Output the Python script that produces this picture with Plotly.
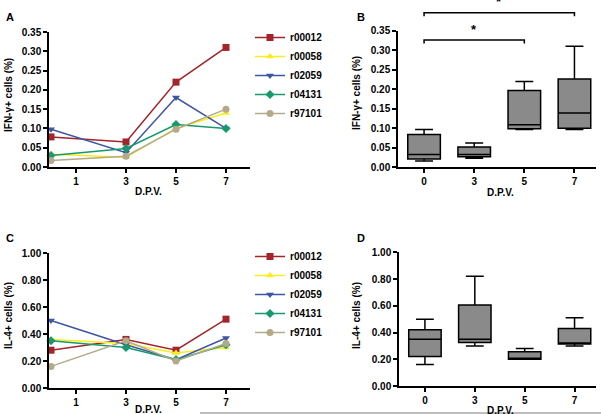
import plotly.graph_objects as go

W, H = 601, 414
FONT = "Liberation Sans, Arial, sans-serif"

# ---------------- data ----------------
days = [0, 3, 5, 7]
day_ticks = [1, 3, 5, 7]
box_cats = ["0", "3", "5", "7"]
rabbits = ["r00012", "r00058", "r02059", "r04131", "r97101"]

ifn = {
    "r00012": [0.078, 0.065, 0.220, 0.310],
    "r00058": [0.033, 0.025, 0.100, 0.140],
    "r02059": [0.098, 0.037, 0.180, 0.100],
    "r04131": [0.030, 0.048, 0.110, 0.100],
    "r97101": [0.017, 0.028, 0.098, 0.150],
}
il4 = {
    "r00012": [0.28, 0.36, 0.28, 0.51],
    "r00058": [0.36, 0.33, 0.26, 0.30],
    "r02059": [0.50, 0.32, 0.21, 0.37],
    "r04131": [0.35, 0.30, 0.21, 0.32],
    "r97101": [0.16, 0.35, 0.20, 0.33],
}

# box statistics
ifn_low = [0.016, 0.023, 0.097, 0.097]
ifn_q1 = [0.021, 0.027, 0.099, 0.100]
ifn_med = [0.033, 0.033, 0.109, 0.139]
ifn_q3 = [0.084, 0.052, 0.197, 0.226]
ifn_up = [0.097, 0.062, 0.220, 0.310]

il4_low = [0.16, 0.30, 0.200, 0.300]
il4_q1 = [0.22, 0.325, 0.200, 0.314]
il4_med = [0.35, 0.35, 0.205, 0.322]
il4_q3 = [0.42, 0.605, 0.257, 0.430]
il4_up = [0.50, 0.82, 0.280, 0.510]

# significance comparisons (category index pairs) in panel B
sig_pairs = [(0, 2), (0, 3)]
sig_levels = [0.326, 0.396]
sig_labels = ["*", "*"]

styles = {
    "r00012": dict(color="#A3242A", symbol="square"),
    "r00058": dict(color="#F7EE1A", symbol="triangle-up"),
    "r02059": dict(color="#3E55A4", symbol="triangle-down"),
    "r04131": dict(color="#16996E", symbol="diamond"),
    "r97101": dict(color="#B3AA8A", symbol="circle"),
}

fig = go.Figure()

# line panels
for name in rabbits:
    st = styles[name]
    fig.add_trace(go.Scatter(
        x=days, y=ifn[name], name=name, mode="lines+markers",
        line=dict(color=st["color"], width=1.5),
        marker=dict(symbol=st["symbol"], size=7, color=st["color"]),
        xaxis="x", yaxis="y", legend="legend", cliponaxis=False))
for name in rabbits:
    st = styles[name]
    fig.add_trace(go.Scatter(
        x=days, y=il4[name], name=name, mode="lines+markers",
        line=dict(color=st["color"], width=1.5),
        marker=dict(symbol=st["symbol"], size=7, color=st["color"]),
        xaxis="x3", yaxis="y3", legend="legend2", cliponaxis=False))

# box panels
box_style = dict(fillcolor="#8A8A8A", line=dict(color="black", width=1.5),
                 width=0.65, whiskerwidth=0.55, showlegend=False, boxpoints=False)
fig.add_trace(go.Box(x=box_cats, q1=ifn_q1, median=ifn_med, q3=ifn_q3,
                     lowerfence=ifn_low, upperfence=ifn_up,
                     xaxis="x2", yaxis="y2", **box_style))
fig.add_trace(go.Box(x=box_cats, q1=il4_q1, median=il4_med, q3=il4_q3,
                     lowerfence=il4_low, upperfence=il4_up,
                     xaxis="x4", yaxis="y4", **box_style))

tickfont = dict(family=FONT, size=10, color="black", weight="bold")

def px_x(p):
    return p / W

def px_y(p):
    return 1 - p / H

line_x_range = [-0.08, 7.96]
box_x_range = [-0.52, 3.43]

common = dict(showline=True, linecolor="black", linewidth=1.5, ticks="outside",
              ticklen=4, tickwidth=1.5, tickcolor="black", showgrid=False,
              zeroline=False, tickfont=tickfont, mirror=False, automargin=False)

y2_dom = [px_y(167.3), px_y(30.7)]

fig.update_layout(
    width=W, height=H, margin=dict(l=0, r=0, t=0, b=0, autoexpand=False),
    paper_bgcolor="white", plot_bgcolor="white",
    font=dict(family=FONT, size=10, color="black"),
    xaxis=dict(domain=[px_x(49), px_x(250)], range=line_x_range, tickvals=day_ticks,
               anchor="y", **common),
    yaxis=dict(domain=[px_y(167), px_y(32)], range=[0, 0.35], dtick=0.05,
               tickformat=".2f", anchor="x", **common),
    xaxis2=dict(domain=[px_x(398), px_x(596)], range=box_x_range, type="category",
                anchor="y2", **common),
    yaxis2=dict(domain=y2_dom, range=[0, 0.35], dtick=0.05,
                tickformat=".2f", anchor="x2", **common),
    xaxis3=dict(domain=[px_x(49), px_x(250)], range=line_x_range, tickvals=day_ticks,
                anchor="y3", **common),
    yaxis3=dict(domain=[px_y(388), px_y(253)], range=[0, 1.0], dtick=0.2,
                tickformat=".2f", anchor="x3", **common),
    xaxis4=dict(domain=[px_x(399), px_x(596)], range=box_x_range, type="category",
                anchor="y4", **common),
    yaxis4=dict(domain=[px_y(386), px_y(252.3)], range=[0, 1.0], dtick=0.2,
                tickformat=".2f", anchor="x4", **common),
    legend=dict(x=px_x(250), y=px_y(23), xanchor="left", yanchor="top",
                font=dict(family=FONT, size=10, color="black", weight="bold"),
                itemwidth=30, bgcolor="rgba(0,0,0,0)", tracegroupgap=0),
    legend2=dict(x=px_x(250), y=px_y(242), xanchor="left", yanchor="top",
                 font=dict(family=FONT, size=10, color="black", weight="bold"),
                 itemwidth=30, bgcolor="rgba(0,0,0,0)", tracegroupgap=0),
)

ann_font = dict(family=FONT, size=10, color="black", weight="bold")
annotations = []
# panel letters
for letter, (x, y) in {"A": (10, 17), "B": (361, 17), "C": (10, 238), "D": (361, 238)}.items():
    annotations.append(dict(text=letter, x=px_x(x), y=px_y(y), xref="paper", yref="paper",
                            xanchor="center", yanchor="middle", showarrow=False,
                            font=dict(family=FONT, size=11, color="black", weight="bold")))
# axis titles
for (x, y) in [(148, 191), (500, 192), (148, 409), (500, 410)]:
    annotations.append(dict(text="D.P.V.", x=px_x(x), y=px_y(y), xref="paper", yref="paper",
                            xanchor="center", yanchor="middle",
                            showarrow=False, font=ann_font))
for (x, y, t) in [(8, 95, "IFN-γ+ cells (%)"), (356, 93, "IFN-γ+ cells (%)"),
                  (8, 316, "IL-4+ cells (%)"), (356, 316, "IL-4+ cells (%)")]:
    annotations.append(dict(text=t, x=px_x(x), y=px_y(y), xref="paper", yref="paper",
                            xanchor="center", yanchor="middle",
                            showarrow=False, textangle=-90, font=ann_font))

# significance brackets in panel B
span = box_x_range[1] - box_x_range[0]
ymax = 0.35
shapes = []
for (i, j), lev, lab in zip(sig_pairs, sig_levels, sig_labels):
    xa = (i - box_x_range[0]) / span
    xb = (j - box_x_range[0]) / span
    yt = lev / ymax
    yb = (lev - 0.009) / ymax
    shapes.append(dict(type="path", xref="x2 domain", yref="y2 domain",
                       path=f"M {xa} {yb} L {xa} {yt} L {xb} {yt} L {xb} {yb}",
                       line=dict(color="black", width=1.5)))
    star_y = y2_dom[0] + (lev + 0.004) / ymax * (y2_dom[1] - y2_dom[0])
    annotations.append(dict(text=lab, x=(i + j) / 2, y=star_y, xref="x2", yref="paper",
                            xanchor="center", showarrow=False, yanchor="bottom",
                            font=dict(family=FONT, size=13, color="black", weight="bold")))

# faint separator line at the bottom of the image
shapes.append(dict(type="line", xref="paper", yref="paper", x0=px_x(200), x1=1,
                   y0=px_y(413), y1=px_y(413), line=dict(color="#a8a8a8", width=1.5)))

fig.update_layout(annotations=annotations, shapes=shapes)
fig.write_html("out.html", config={"displayModeBar": False},
               post_script="document.body.style.margin='0';document.body.style.overflow='hidden';")
